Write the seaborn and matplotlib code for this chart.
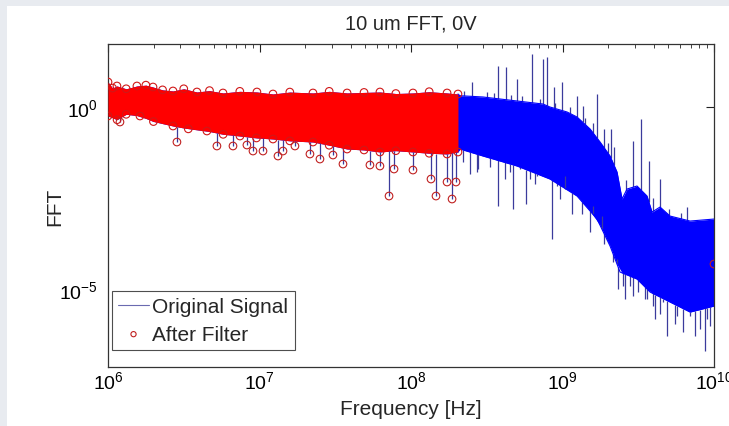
import numpy as np
import matplotlib.pyplot as plt
import seaborn as sns
from matplotlib.patches import Rectangle
from matplotlib.ticker import LogLocator, NullLocator

# values (log10 of frequency in Hz, log10 of FFT amplitude)
RED_UP_LOGF = [6.0, 6.03, 6.059, 6.12, 6.191, 6.25, 6.297, 6.36, 6.429, 6.5, 6.587, 6.67, 6.759, 6.87, 6.983,
               7.089, 7.2, 7.353, 7.46, 7.578, 7.69, 7.795, 7.9, 8.013, 8.12, 8.238, 8.31]
RED_UP_LOGA = [0.687, 0.52, 0.577, 0.50, 0.577, 0.60, 0.549, 0.47, 0.44, 0.50, 0.412, 0.45, 0.385, 0.43, 0.412,
               0.357, 0.41, 0.385, 0.43, 0.385, 0.40, 0.412, 0.37, 0.385, 0.42, 0.385, 0.357]
RED_LO_LOGF = [6.0, 6.06, 6.12, 6.211, 6.3, 6.429, 6.53, 6.653, 6.76, 6.871, 6.98, 7.089, 7.2, 7.353, 7.46,
               7.578, 7.69, 7.795, 7.9, 8.013, 8.12, 8.238, 8.31]
RED_LO_LOGA = [-0.247, -0.35, -0.20, -0.247, -0.40, -0.522, -0.60, -0.659, -0.75, -0.797, -0.85, -0.879, -0.93,
               -0.962, -1.05, -1.154, -1.18, -1.236, -1.20, -1.236, -1.27, -1.291, -1.236]

BLUE_UP_LOGF = [8.31, 8.323, 8.475, 8.70, 8.871, 8.917, 9.03, 9.096, 9.182, 9.248, 9.314, 9.36, 9.393, 9.426,
                9.492, 9.558, 9.591, 9.644, 9.71, 9.842, 10.0]
BLUE_UP_LOGA = [0.357, 0.31, 0.275, 0.165, 0.082, 0.0, -0.137, -0.275, -0.604, -0.962, -1.346, -1.786, -2.527,
                -2.253, -2.17, -2.445, -2.885, -2.747, -2.995, -3.132, -3.077]
BLUE_LO_LOGF = [8.31, 8.323, 8.475, 8.70, 8.917, 9.096, 9.228, 9.314, 9.38, 9.492, 9.578, 9.71, 9.842, 10.0]
BLUE_LO_LOGA = [-1.236, -1.154, -1.346, -1.621, -1.978, -2.445, -3.077, -3.819, -4.533, -4.725, -5.082, -5.357,
                -5.632, -5.467]

DOWN_SPIKE_LOGF = [8.343, 8.389, 8.436, 8.442, 8.521, 8.574, 8.62, 8.653, 8.673, 8.719, 8.759, 8.785, 8.818,
                   8.832, 8.931, 8.964, 8.983, 9.017, 9.063, 9.129, 9.182, 9.201, 9.261, 9.274, 9.294, 9.333,
                   9.36, 9.366, 9.399, 9.413, 9.446, 9.465, 9.498, 9.545, 9.558, 9.597, 9.611, 9.644, 9.663,
                   9.69, 9.743, 9.756, 9.795, 9.842, 9.875, 9.908, 9.941, 9.954, 9.974]
DOWN_SPIKE_LOGA = [-1.511, -1.841, -1.786, -1.703, -1.648, -2.72, -1.978, -1.786, -2.802, -1.703, -2.665, -1.978,
                   -2.115, -1.896, -3.626, -2.17, -2.527, -1.896, -2.94, -2.94, -3.434, -2.72, -2.995, -3.764,
                   -3.626, -4.258, -4.176, -5.0, -4.918, -5.275, -4.918, -5.192, -5.082, -5.275, -5.275, -5.467,
                   -5.824, -5.687, -5.357, -6.291, -5.962, -5.742, -6.181, -5.742, -6.291, -6.099, -6.703,
                   -5.824, -6.016]
UP_SPIKE_LOGF = [8.35, 8.403, 8.5, 8.55, 8.574, 8.627, 8.66, 8.70, 8.73, 8.799, 8.85, 8.871, 8.898, 8.944, 8.95,
                 8.997, 9.05, 9.096, 9.135, 9.15, 9.2, 9.228, 9.274, 9.3, 9.32, 9.34, 9.42, 9.465, 9.518, 9.571,
                 9.6, 9.644, 9.7, 9.78, 9.822]
UP_SPIKE_LOGA = [0.45, 0.687, 0.40, 0.38, 1.126, 1.099, 0.33, 0.769, 0.30, 1.456, 0.22, 1.319, 1.374, 0.549,
                 0.12, 0.687, 0.0, 0.302, 0.027, -0.3, -0.45, 0.357, -0.604, -1.0, -0.604, -1.1, -2.0, -0.934,
                 -0.33, -1.484, -2.5, -1.978, -2.8, -2.9, -2.747]

FILT_LOGF = [6.079, 6.455, 6.719, 6.825, 6.917, 6.957, 7.023, 7.122, 7.155, 7.234, 7.333, 7.399, 7.485, 7.551,
             7.729, 7.795, 7.855, 7.888, 8.013, 8.132, 8.165, 8.238, 8.271, 8.297, 10.0]
FILT_LOGA = [-0.412, -0.962, -1.071, -1.071, -1.044, -1.209, -1.209, -1.346, -1.209, -1.071, -1.291, -1.429,
             -1.319, -1.566, -1.593, -1.621, -2.445, -1.703, -1.731, -1.978, -2.445, -2.06, -2.527, -2.06, -4.313]

BLUE = '#0000ff'
RED = '#ff0000'
STEM = '#3b3b9c'

sns.set_style('white')
plt.rcParams['font.family'] = ['Liberation Sans', 'DejaVu Sans']
plt.rcParams['mathtext.fontset'] = 'custom'
plt.rcParams['mathtext.rm'] = 'Liberation Sans'
plt.rcParams['mathtext.it'] = 'Liberation Sans'
plt.rcParams['axes.unicode_minus'] = False

fig = plt.figure(figsize=(7.29, 4.27), dpi=100)
fig.patch.set_facecolor('#e8ebf0')
fig.add_artist(Rectangle((7 / 729, 0), 1, 420 / 427, transform=fig.transFigure,
                         facecolor='white', edgecolor='none', zorder=-5))
ax = fig.add_axes([108 / 729, 59 / 427, 606 / 729, 323 / 427])
ax.set_facecolor('white')

p = lambda v: 10 ** np.asarray(v, dtype=float)

# blue original signal: dense band + spikes
bf = np.concatenate([RED_UP_LOGF, BLUE_UP_LOGF[1:]])
bu = np.concatenate([RED_UP_LOGA, BLUE_UP_LOGA[1:]])
lf = np.concatenate([RED_LO_LOGF, BLUE_LO_LOGF[1:]])
la = np.concatenate([RED_LO_LOGA, BLUE_LO_LOGA[1:]])
ax.fill_between(p(bf), p(np.interp(bf, lf, la)), p(bu), color=BLUE, lw=0, zorder=1)
ax.vlines(p(DOWN_SPIKE_LOGF), p(DOWN_SPIKE_LOGA), p(np.interp(DOWN_SPIKE_LOGF, lf, la)),
          color=STEM, lw=0.9, zorder=1)
ax.vlines(p(UP_SPIKE_LOGF), p(np.interp(UP_SPIKE_LOGF, bf, bu)), p(UP_SPIKE_LOGA),
          color=STEM, lw=0.9, zorder=1)
sns.lineplot(x=p(BLUE_UP_LOGF), y=p(BLUE_UP_LOGA), color=BLUE, lw=0.8, ax=ax,
             label='Original Signal', zorder=2, legend=False)
sns.lineplot(x=p(BLUE_LO_LOGF), y=p(BLUE_LO_LOGA), color=BLUE, lw=0.8, ax=ax, zorder=2, legend=False)

# red filtered signal
ax.fill_between(p(RED_UP_LOGF), p(np.interp(RED_UP_LOGF, RED_LO_LOGF, RED_LO_LOGA)), p(RED_UP_LOGA),
                color=RED, lw=0, zorder=3)
ax.vlines(p(FILT_LOGF[:-1]), p(FILT_LOGA[:-1]),
          p(np.interp(FILT_LOGF[:-1], RED_LO_LOGF, RED_LO_LOGA)), color=STEM, lw=0.9, zorder=3)
edge_f = np.concatenate([RED_UP_LOGF, RED_LO_LOGF])
edge_a = np.concatenate([RED_UP_LOGA, RED_LO_LOGA])
sns.scatterplot(x=p(edge_f), y=p(edge_a), marker='o', s=30, facecolor='none', edgecolor='#d01818',
                linewidth=0.8, ax=ax, zorder=4, legend=False)
sns.scatterplot(x=p(FILT_LOGF), y=p(FILT_LOGA), marker='o', s=30, facecolor='none', edgecolor='#c02020',
                linewidth=0.8, ax=ax, zorder=4, label='After Filter', legend=False)

ax.set_xscale('log')
ax.set_yscale('log')
ax.set_xlim(1e6, 1e10)
ax.set_ylim(10 ** -7.14, 10 ** 1.73)
ax.set_yticks([1e-5, 1e0])
ax.yaxis.set_minor_locator(NullLocator())
ax.xaxis.set_minor_locator(LogLocator(base=10, subs=np.arange(2, 10), numticks=20))
ax.tick_params(which='both', direction='in', top=True, right=True, labelsize=14, colors='#222222',
               labelcolor='black')
ax.tick_params(which='major', length=6, width=0.8)
ax.tick_params(which='minor', length=3, width=0.6)
ax.tick_params(axis='x', which='major', pad=2)
ax.tick_params(axis='y', which='major', pad=7)
for s in ax.spines.values():
    s.set_color('#333333')
    s.set_linewidth(0.9)

ax.set_title('10 um FFT, 0V', fontsize=14.5, pad=11)
ax.set_xlabel('Frequency [Hz]', fontsize=15)
ax.set_ylabel('FFT', fontsize=15)
ax.xaxis.set_label_coords(0.5, -0.1)
ax.yaxis.set_label_coords(-0.072, 0.5)

handles, labels = ax.get_legend_handles_labels()
leg = ax.legend(handles, labels, loc='lower left', bbox_to_anchor=(0.006, 0.053), fontsize=15,
                frameon=True, fancybox=False, edgecolor='#222222', borderpad=0.3, labelspacing=0.4,
                handlelength=1.5, handletextpad=0.15, borderaxespad=0)
leg.get_frame().set_linewidth(0.8)
leg.legend_handles[0].set_color('#6a6ab0')
leg.legend_handles[1].set_sizes([14])

fig.savefig('out.png', dpi=100)
